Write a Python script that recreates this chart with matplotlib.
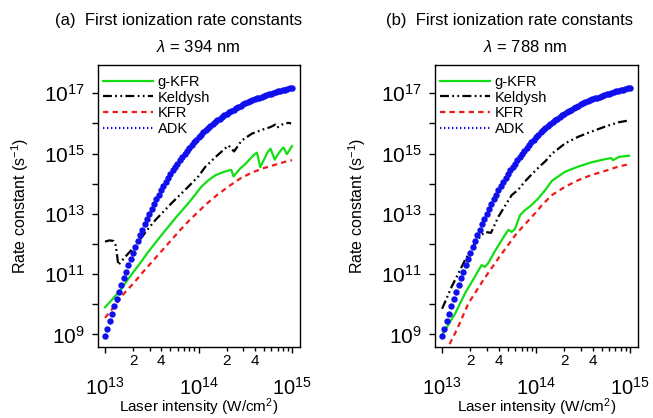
import numpy as np
import matplotlib.pyplot as plt
from matplotlib.lines import Line2D

plt.rcParams['font.family'] = ['Liberation Sans', 'DejaVu Sans']
plt.rcParams['mathtext.fontset'] = 'custom'
plt.rcParams['mathtext.rm'] = 'Liberation Sans'
plt.rcParams['mathtext.it'] = 'Liberation Sans:italic'
plt.rcParams['mathtext.default'] = 'regular'

# all values are log10 of intensity (W/cm2) and log10 of rate constant (s-1)

# ADK is the same for both wavelengths
adk_logI = [13.000, 13.025, 13.050, 13.075, 13.100, 13.125, 13.150, 13.175, 13.200, 13.225,
            13.250, 13.275, 13.300, 13.325, 13.350, 13.375, 13.400, 13.425, 13.450, 13.475,
            13.500, 13.525, 13.550, 13.575, 13.600, 13.625, 13.650, 13.675, 13.700, 13.725,
            13.750, 13.775, 13.800, 13.825, 13.850, 13.875, 13.900, 13.925, 13.950, 13.975,
            14.000, 14.025, 14.050, 14.075, 14.100, 14.125, 14.150, 14.175, 14.200, 14.225,
            14.250, 14.275, 14.300, 14.325, 14.350, 14.375, 14.400, 14.425, 14.450, 14.475,
            14.500, 14.525, 14.550, 14.575, 14.600, 14.625, 14.650, 14.675, 14.700, 14.725,
            14.750, 14.775, 14.800, 14.825, 14.850, 14.875, 14.900, 14.925, 14.950, 14.975,
            15.000]
adk_logk = [8.95, 9.19, 9.43, 9.68, 9.93, 10.17, 10.41, 10.64, 10.86, 11.08,
            11.29, 11.50, 11.71, 11.91, 12.10, 12.29, 12.47, 12.65, 12.83, 13.00,
            13.16, 13.32, 13.48, 13.63, 13.78, 13.92, 14.06, 14.19, 14.32, 14.44,
            14.56, 14.67, 14.78, 14.89, 14.99, 15.09, 15.19, 15.28, 15.37, 15.46,
            15.54, 15.62, 15.70, 15.77, 15.84, 15.91, 15.98, 16.04, 16.10, 16.16,
            16.22, 16.27, 16.32, 16.37, 16.42, 16.46, 16.51, 16.55, 16.59, 16.63,
            16.67, 16.70, 16.74, 16.77, 16.80, 16.83, 16.86, 16.89, 16.92, 16.94,
            16.97, 16.99, 17.02, 17.04, 17.06, 17.08, 17.10, 17.12, 17.14, 17.16,
            17.18]

# (a) 394 nm
gkfr_a_logI = [13.00, 13.10, 13.18, 13.25, 13.36, 13.46, 13.60, 13.75, 13.89, 13.96,
               14.03, 14.10, 14.18, 14.25, 14.32, 14.35, 14.375, 14.40, 14.45, 14.50,
               14.55, 14.60, 14.625, 14.66, 14.70, 14.74, 14.77, 14.815, 14.85, 14.89,
               14.91, 14.945, 14.975, 15.00]
gkfr_a_logk = [9.90, 10.24, 10.53, 10.85, 11.30, 11.73, 12.28, 12.85, 13.35, 13.62,
               13.90, 14.10, 14.28, 14.37, 14.44, 14.46, 14.24, 14.34, 14.52, 14.65,
               14.82, 14.98, 15.03, 14.55, 14.80, 15.05, 15.16, 14.80, 14.98, 15.15,
               15.20, 14.98, 15.12, 15.25]

keld_a_logI = [13.00, 13.05, 13.09, 13.115, 13.13, 13.142, 13.20, 13.32, 13.45, 13.54,
               13.71, 13.89, 14.00, 14.07, 14.18, 14.32, 14.38, 14.46, 14.57, 14.68,
               14.77, 14.82, 14.84, 14.89, 14.96, 14.99]
keld_a_logk = [12.08, 12.12, 12.10, 11.95, 11.60, 11.30, 11.52, 11.93, 12.46, 12.80,
               13.35, 13.90, 14.25, 14.55, 14.88, 15.27, 15.07, 15.43, 15.66, 15.79,
               15.88, 15.96, 15.86, 15.96, 16.02, 16.00]

kfr_a_logI = [13.00, 13.10, 13.20, 13.30, 13.40, 13.50, 13.60, 13.70, 13.80, 13.90,
              14.00, 14.10, 14.20, 14.34, 14.45, 14.57, 14.70, 14.82, 14.94, 15.00]
kfr_a_logk = [9.55, 9.93, 10.35, 10.68, 11.05, 11.40, 11.75, 12.10, 12.45, 12.78,
              13.08, 13.37, 13.63, 13.95, 14.18, 14.37, 14.52, 14.63, 14.74, 14.78]

# (b) 788 nm
gkfr_b_logI = [13.00, 13.14, 13.245, 13.35, 13.42, 13.455, 13.49, 13.56, 13.635, 13.705,
               13.74, 13.775, 13.83, 13.88, 13.94, 14.02, 14.10, 14.17, 14.31, 14.45,
               14.59, 14.73, 14.80, 14.82, 14.88, 14.99]
gkfr_b_logk = [8.98, 9.70, 10.37, 10.92, 11.30, 11.24, 11.36, 11.75, 12.13, 12.47,
               12.40, 12.50, 12.96, 13.12, 13.26, 13.50, 13.80, 14.10, 14.40, 14.57,
               14.71, 14.81, 14.85, 14.78, 14.89, 14.93]

keld_b_logI = [13.00, 13.10, 13.245, 13.35, 13.42, 13.46, 13.52, 13.60, 13.74, 13.81,
               13.88, 13.95, 14.03, 14.10, 14.17, 14.22, 14.31, 14.45, 14.59, 14.73,
               14.88, 14.99]
keld_b_logk = [9.85, 10.57, 11.47, 12.02, 12.30, 12.40, 12.37, 12.91, 13.62, 13.80,
               14.07, 14.30, 14.55, 14.75, 15.00, 15.12, 15.34, 15.56, 15.73, 15.89,
               16.04, 16.10]

kfr_b_logI = [13.08, 13.156, 13.28, 13.44, 13.60, 13.795, 13.99, 14.06, 14.167, 14.31,
              14.45, 14.59, 14.73, 14.877, 14.993]
kfr_b_logk = [8.68, 9.15, 10.03, 10.81, 11.53, 12.36, 13.02, 13.28, 13.62, 13.90,
              14.12, 14.29, 14.42, 14.57, 14.65]

titles = ['(a)  First ionization rate constants', '(b)  First ionization rate constants']
wavelengths = [r'$\it{\lambda}$ = 394 nm', r'$\it{\lambda}$ = 788 nm']
labels = ['g-KFR', 'Keldysh', 'KFR', 'ADK']

green = '#13dd13'
red = '#ee1a1a'
blue = '#1010ee'
keld_style = (0, (4, 1.5, 0.8, 1.5, 0.8, 1.5))
kfr_style = (0, (2.4, 1.9))


def draw_panel(ax, gkfr, keld, kfr):
    ax.plot(10 ** np.array(gkfr[0]), 10 ** np.array(gkfr[1]), color=green, lw=1.6)
    ax.plot(10 ** np.array(keld[0]), 10 ** np.array(keld[1]), color='black', lw=1.6,
            linestyle=keld_style)
    ax.plot(10 ** np.array(kfr[0]), 10 ** np.array(kfr[1]), color=red, lw=1.6,
            linestyle=kfr_style)
    ax.plot(10 ** np.array(adk_logI), 10 ** np.array(adk_logk), 'o', color=blue,
            ms=4.6, mew=0)

    ax.set_xscale('log')
    ax.set_yscale('log')
    ax.set_xlim(10 ** 12.925, 10 ** 15.085)
    ax.set_ylim(10 ** 8.585, 10 ** 17.94)

    yt = [10.0 ** e for e in range(9, 18)]
    ax.set_yticks(yt)
    ax.set_yticklabels(['$10^{%d}$' % e if e % 2 == 1 else '' for e in range(9, 18)])
    ax.yaxis.set_minor_locator(plt.NullLocator())

    ax.set_xticks([1e13, 1e14, 1e15])
    ax.set_xticklabels(['$10^{13}$', '$10^{14}$', '$10^{15}$'])
    minors = [m * 10.0 ** d for d in (13, 14) for m in range(2, 10)]
    ax.set_xticks(minors, minor=True)
    ax.set_xticklabels([str(m) if m in (2, 4) else '' for d in (13, 14) for m in range(2, 10)],
                       minor=True)

    ax.tick_params(axis='y', which='major', direction='out', length=4.5, width=1,
                   labelsize=15, pad=5)
    ax.tick_params(axis='x', which='major', direction='out', length=4.5, width=1,
                   labelsize=14.5, pad=17)
    ax.tick_params(axis='x', which='minor', direction='out', length=3, width=1,
                   labelsize=11, pad=2)
    for s in ax.spines.values():
        s.set_linewidth(1.0)

    ax.set_xlabel('Laser intensity (W/cm$^{2}$)', fontsize=11)
    ax.xaxis.set_label_coords(0.5, -0.177)
    ax.set_ylabel('Rate constant (s$^{-1}$)', fontsize=11.5, labelpad=9)

    handles = [Line2D([], [], color=green, lw=1.6),
               Line2D([], [], color='black', lw=1.6, linestyle=keld_style),
               Line2D([], [], color=red, lw=1.6, linestyle=kfr_style),
               Line2D([], [], color=blue, lw=1.6, linestyle=(0, (0.6, 1.2)))]
    ax.legend(handles, labels, loc='upper left', bbox_to_anchor=(0.025, 0.965),
              frameon=False, fontsize=10.5, handlelength=3.4, handletextpad=0.35,
              labelspacing=0.12, borderaxespad=0, borderpad=0)


fig = plt.figure(figsize=(6.53, 4.18), dpi=100)
ax_a = fig.add_axes([0.1501, 0.170, 0.3093, 0.6746])
ax_b = fig.add_axes([0.6662, 0.170, 0.3109, 0.6746])

draw_panel(ax_a, (gkfr_a_logI, gkfr_a_logk), (keld_a_logI, keld_a_logk), (kfr_a_logI, kfr_a_logk))
draw_panel(ax_b, (gkfr_b_logI, gkfr_b_logk), (keld_b_logI, keld_b_logk), (kfr_b_logI, kfr_b_logk))

fig.text(0.274, 0.952, titles[0], ha='center', va='center', fontsize=12)
fig.text(0.781, 0.952, titles[1], ha='center', va='center', fontsize=12)
fig.text(0.303, 0.888, wavelengths[0], ha='center', va='center', fontsize=12)
fig.text(0.804, 0.888, wavelengths[1], ha='center', va='center', fontsize=12)

fig.savefig('out.png', dpi=100)
